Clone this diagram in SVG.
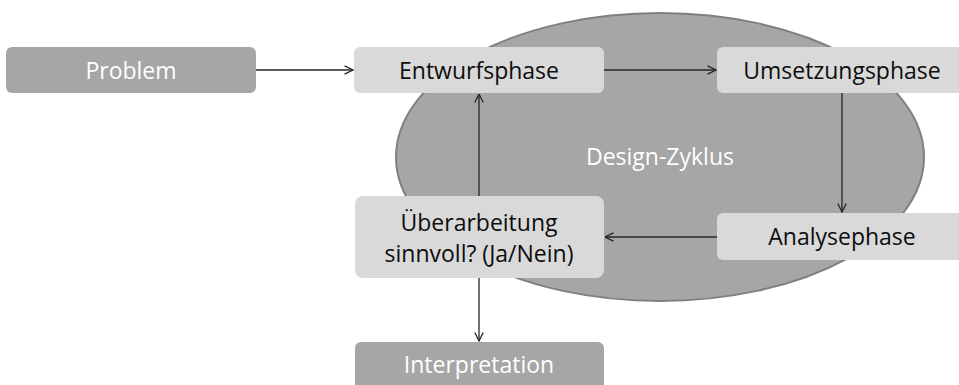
<svg xmlns="http://www.w3.org/2000/svg" width="959" height="385" viewBox="0 0 959 385">
<defs>
<style>
.dark{fill:#a6a6a6;}
.light{fill:#d9d9d9;}
text{font-family:"Open Sans","Noto Sans","Liberation Sans",sans-serif;font-size:23px;text-anchor:middle;}
.w{fill:#ffffff;}
.b{fill:#0d0d0d;}
.conn{stroke:#262626;stroke-width:1.3;fill:none;marker-end:url(#arr);}
</style>
<marker id="arr" viewBox="0 0 10 10" refX="9.5" refY="5" markerWidth="10" markerHeight="10" markerUnits="userSpaceOnUse" orient="auto">
<path d="M1,0.8 L9.5,5 L1,9.2" fill="none" stroke="#262626" stroke-width="1.3"/>
</marker>
</defs>
<rect width="959" height="385" fill="#ffffff"/>
<g id="cycle">
<ellipse cx="660" cy="157" rx="264" ry="144" fill="#a6a6a6" stroke="#7f7f7f" stroke-width="2"/>
<text class="w" x="660" y="165">Design-Zyklus</text>
</g>
<g id="problem">
<rect class="dark" x="6" y="47" width="250" height="46" rx="6"/>
<text class="w" x="131" y="79">Problem</text>
</g>
<g id="entwurf">
<rect class="light" x="354" y="47" width="250" height="46" rx="6"/>
<text class="b" x="479" y="79">Entwurfsphase</text>
</g>
<g id="umsetzung">
<rect class="light" x="717" y="47" width="250" height="46" rx="6"/>
<text class="b" x="842" y="79">Umsetzungsphase</text>
</g>
<g id="analyse">
<rect class="light" x="717" y="213" width="250" height="47" rx="6"/>
<text class="b" x="842" y="245">Analysephase</text>
</g>
<g id="ueberarbeitung">
<rect class="light" x="355" y="196" width="249" height="82" rx="8"/>
<text class="b" x="479" y="231">Überarbeitung</text>
<text class="b" x="479" y="262">sinnvoll? (Ja/Nein)</text>
</g>
<g id="interpretation">
<rect class="dark" x="355" y="342" width="249" height="50" rx="6"/>
<text class="w" x="479" y="373">Interpretation</text>
</g>
<g id="connectors">
<line class="conn" x1="256" y1="70" x2="353" y2="70"/>
<line class="conn" x1="604" y1="70" x2="716" y2="70"/>
<line class="conn" x1="842" y1="93" x2="842" y2="212"/>
<line class="conn" x1="717" y1="237" x2="605" y2="237"/>
<line class="conn" x1="479" y1="196" x2="479" y2="94"/>
<line class="conn" x1="479" y1="278" x2="479" y2="341"/>
</g>
</svg>
